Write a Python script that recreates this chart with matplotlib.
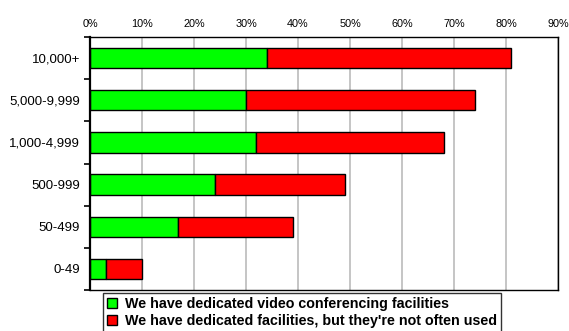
import matplotlib.pyplot as plt
import numpy as np

# company size bands, bottom to top
sizes = ["0-49", "50-499", "500-999", "1,000-4,999", "5,000-9,999", "10,000+"]
# share with dedicated video conferencing facilities (%)
dedicated = [3, 17, 24, 32, 30, 34]
# share with dedicated facilities that are not often used (%)
not_used = [7, 22, 25, 36, 44, 47]
xticks = [0, 10, 20, 30, 40, 50, 60, 70, 80, 90]
legend_labels = ["We have dedicated video conferencing facilities",
                 "We have dedicated facilities, but they're not often used"]

plt.rcParams['font.family'] = ['Liberation Sans', 'DejaVu Sans']

fig = plt.figure(figsize=(5.69, 3.31), dpi=100)
ax = fig.add_axes([90 / 569, 1 - 290 / 331, 468 / 569, 253 / 331])

y = np.arange(len(sizes))
b1 = ax.barh(y, dedicated, height=0.48, color="#00ff00", edgecolor="black", linewidth=1)
b2 = ax.barh(y, not_used, left=dedicated, height=0.48, color="#ff0000", edgecolor="black", linewidth=1)

ax.set_xlim(0, 90)
ax.set_ylim(-0.5, len(sizes) - 0.5)
ax.set_xticks(xticks)
ax.set_xticklabels([f"{v}%" for v in xticks], fontsize=7.8)
ax.xaxis.tick_top()
ax.tick_params(axis="x", length=0, pad=6)

ax.set_yticks(y)
ax.set_yticklabels(sizes, fontsize=9.5)
ax.set_yticks(np.arange(-0.5, len(sizes), 1), minor=True)
ax.tick_params(axis="y", which="major", length=0, pad=7)
ax.tick_params(axis="y", which="minor", length=4, width=1.2, color="black")

ax.grid(axis="x", color="#c0c0c0", linewidth=1.3)
ax.set_axisbelow(True)
for side in ["top", "right", "bottom"]:
    ax.spines[side].set_linewidth(1)
ax.spines["left"].set_linewidth(1.6)

leg = fig.legend([b1, b2], legend_labels, loc="upper left",
                 bbox_to_anchor=(103 / 569, 1 - 293 / 331),
                 prop={"weight": "bold", "size": 10.3},
                 handlelength=0.65, handleheight=0.65, handletextpad=0.6,
                 labelspacing=0.2, borderpad=0.3, borderaxespad=0,
                 frameon=True, fancybox=False, edgecolor="black")
leg.get_frame().set_linewidth(1)

fig.savefig("out.png", dpi=100)
